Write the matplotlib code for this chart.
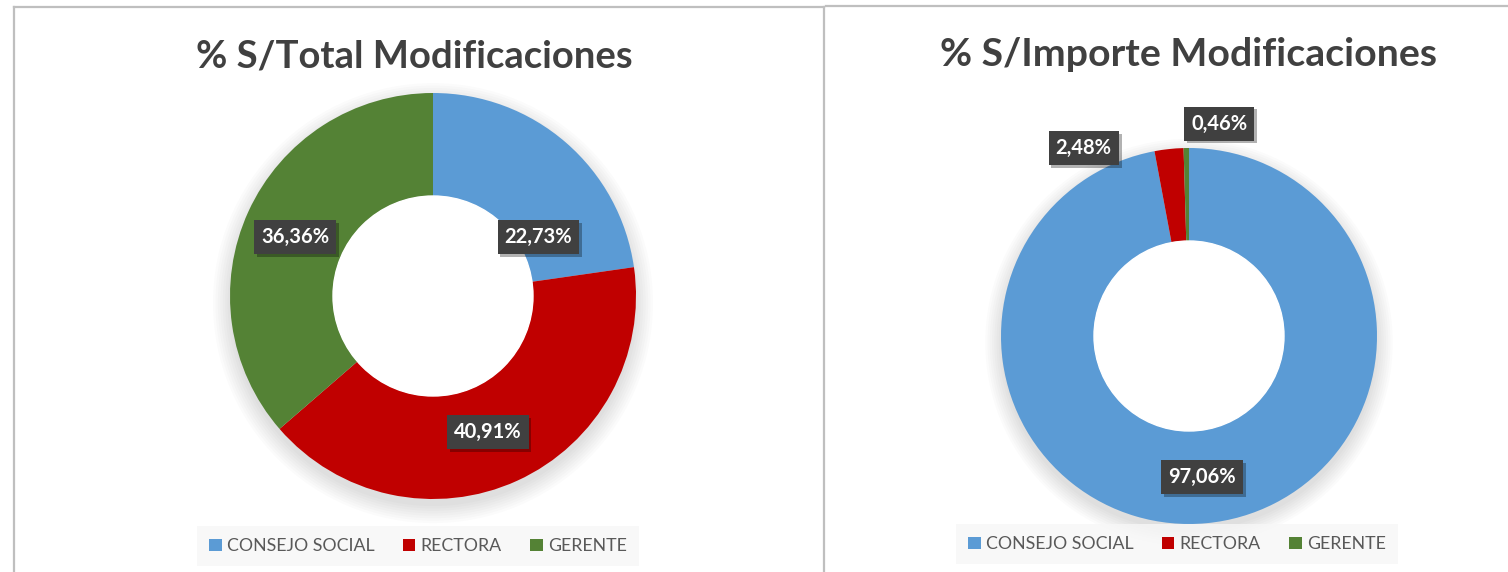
import numpy as np
import matplotlib
matplotlib.use("Agg")
import matplotlib.pyplot as plt
from matplotlib.patches import Patch, Circle
from matplotlib.lines import Line2D
import matplotlib.patheffects as pe

categories = ["CONSEJO SOCIAL", "RECTORA", "GERENTE"]
colors = ["#5B9BD5", "#C00000", "#548235"]

total_values = [22.73, 40.91, 36.36]
importe_values = [97.06, 2.48, 0.46]

titles = ["% S/Total Modificaciones", "% S/Importe Modificaciones"]

# where Excel put the data labels (data units, ring outer radius = 1)
total_label_pos = [(0.52, 0.29), (0.27, -0.67), (-0.68, 0.29)]
importe_label_pos = [(0.07, -0.75), (-0.56, 1.0), (0.16, 1.13)]

W, H = 1508, 572
fig = plt.figure(figsize=(W / 100, H / 100), dpi=100)
fig.patch.set_facecolor("white")

def px_axes(cx, cy, r):
    return fig.add_axes([(cx - r) / W, (H - cy - r) / H, 2 * r / W, 2 * r / H])

def fmt(v):
    return "{0:.2f}%".format(v).replace(".", ",")

def donut(ax, values, hole, label_pos):
    # soft shadow under the ring
    for k in range(8):
        ax.add_patch(Circle((0, -0.035), 1.0 + 0.012 * k, color="black",
                            alpha=0.016, lw=0, zorder=0, clip_on=False))
    ax.pie(values, colors=colors, startangle=90, counterclock=False,
           radius=1.0, wedgeprops=dict(width=1 - hole, linewidth=0))
    ax.add_patch(Circle((0, 0), hole, color="white", zorder=3))
    ax.set_xlim(-1, 1)
    ax.set_ylim(-1, 1)
    ax.set_aspect("equal")
    ax.axis("off")
    for v, (lx, ly) in zip(values, label_pos):
        t = ax.text(lx, ly, fmt(v), ha="center", va="center", color="white",
                    fontsize=14.5, fontweight="bold", family="Lato", zorder=10,
                    clip_on=False,
                    bbox=dict(boxstyle="square,pad=0.35", fc="#404040", ec="none"))
        t.get_bbox_patch().set_path_effects(
            [pe.withSimplePatchShadow(offset=(2, -2), shadow_rgbFace="black", alpha=0.3),
             pe.Normal()])

ax1 = px_axes(433, 296, 203)
donut(ax1, total_values, 100 / 203, total_label_pos)
ax2 = px_axes(1189, 336, 188)
donut(ax2, importe_values, 95 / 188, importe_label_pos)

fig.text(414 / W, 1 - 57 / H, titles[0], ha="center", va="center",
         fontsize=27.5, fontweight="bold", family="Lato", color="#404040")
fig.text(1188 / W, 1 - 54 / H, titles[1], ha="center", va="center",
         fontsize=28.3, fontweight="bold", family="Lato", color="#404040")

handles = [Patch(facecolor=c, edgecolor="none", label=n) for c, n in zip(colors, categories)]
for cx, cy in [(418, 546), (1177, 544)]:
    leg = fig.legend(handles=handles, loc="center", bbox_to_anchor=(cx / W, 1 - cy / H),
                     ncol=3, frameon=True, fancybox=False, handlelength=0.7,
                     handleheight=0.7, handletextpad=0.3, columnspacing=1.6,
                     borderpad=0.7, prop=dict(family="Lato", size=12.8))
    leg.get_frame().set_facecolor("#f7f7f7")
    leg.get_frame().set_edgecolor("none")
    for t in leg.get_texts():
        t.set_color("#595959")

# panel borders
bc = "#bfbfbf"
fig.add_artist(Line2D([14 / W, 14 / W], [0, 1 - 7 / H], color=bc, lw=1.6))
fig.add_artist(Line2D([14 / W, 824 / W], [1 - 7 / H, 1 - 7 / H], color=bc, lw=1.6))
fig.add_artist(Line2D([824 / W, 824 / W], [0, 1 - 7 / H], color=bc, lw=1.6))
fig.add_artist(Line2D([826 / W, 1], [1 - 6 / H, 1 - 6 / H], color=bc, lw=1.6))

fig.savefig("out.png", dpi=100)
